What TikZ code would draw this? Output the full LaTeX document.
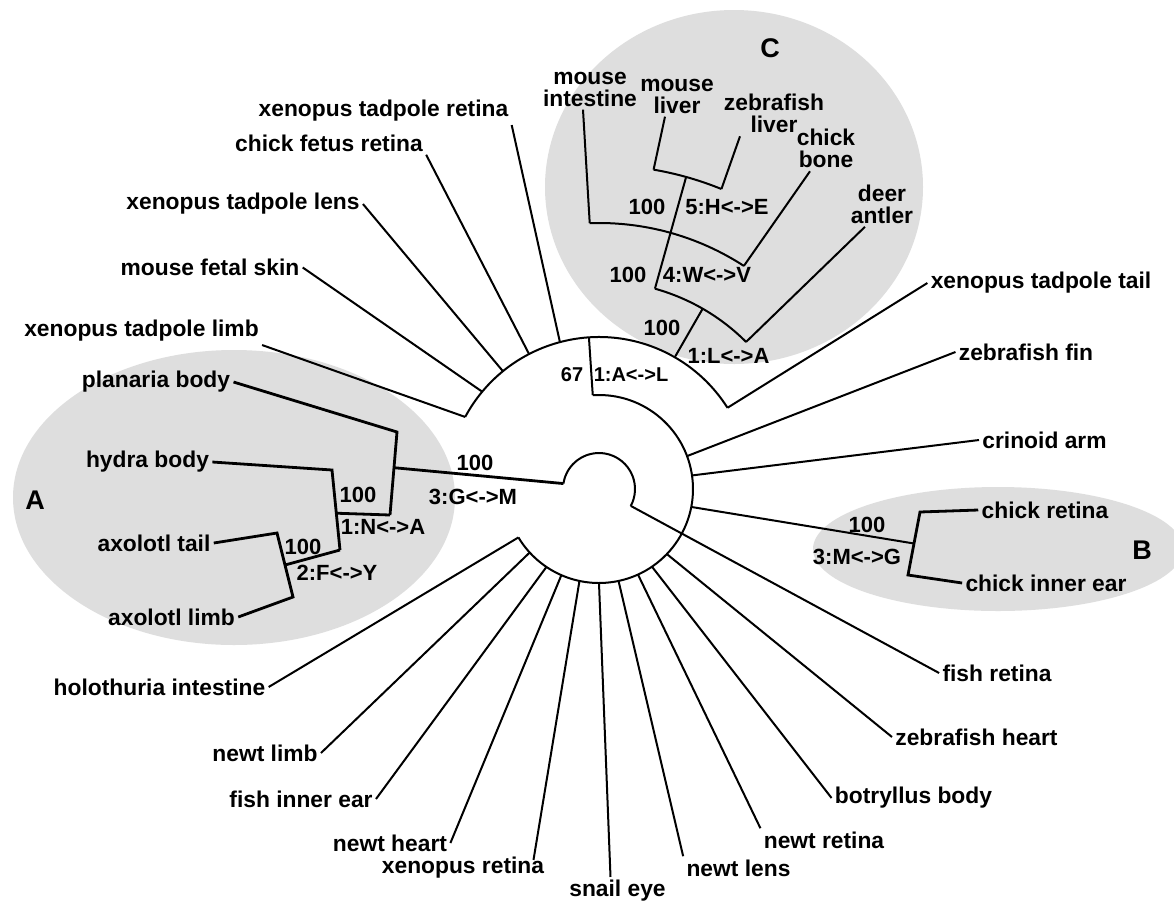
\documentclass[tikz,border=0pt]{standalone}
\usepackage{fontspec}
\setmainfont{Liberation Sans}
\usepackage{tikz}
\usetikzlibrary{calc}
\tikzstyle{leaf} = [inner sep=1.5pt, align=center, font=\fontsize{11.4}{11}\selectfont\bfseries]
\tikzstyle{supp} = [inner sep=1pt, font=\fontsize{11}{12}\selectfont\bfseries]
\tikzstyle{suppsm} = [inner sep=1pt, font=\fontsize{10}{12}\selectfont\bfseries]
\tikzset{
  branch/.style={line width=1pt, black},
  thickbranch/.style={line width=1.4pt, black},
  cladebg/.style={fill=black!13},
  cladelbl/.style={font=\fontsize{13.5}{15}\selectfont\bfseries},
}

\begin{document}
\begin{tikzpicture}[x=0.5pt, y=-0.5pt]
\useasboundingbox (0,0) rectangle (1174,901);
\fill[white] (0,0) rectangle (1174,901);

% shaded clades
\fill[cladebg] (234,497.5) ellipse [x radius=110.5pt, y radius=73.75pt];
\fill[cladebg] (998,549) ellipse [x radius=92.5pt, y radius=31pt];
\fill[cladebg] (734,187) ellipse [x radius=94.5pt, y radius=88.5pt];

\coordinate (ctr) at (599,489);

% leaves
\node[leaf] (xtlimb) at (141.5,331) {xenopus tadpole limb};
\node[leaf] (mfskin) at (210,267.5) {mouse fetal skin};
\node[leaf] (xtlens) at (243,204) {xenopus tadpole lens};
\node[leaf] (cfret) at (329,143) {chick fetus retina};
\node[leaf] (xtret) at (383.5,111) {xenopus tadpole retina};
\node[leaf] (xttail) at (1041,283) {xenopus tadpole tail};
\node[leaf] (mint) at (590,89) {mouse\\intestine};
\node[leaf] (mliv) at (677,96) {mouse\\liver};
\node[leaf] (zliv) at (774,113.5) {zebrafish\\liver};
\node[leaf] (cbone) at (826,148.5) {chick\\bone};
\node[leaf] (dant) at (882,204) {deer\\antler};
\node[leaf] (zfin) at (1026,352) {zebrafish fin};
\node[leaf] (carm) at (1044.5,440) {crinoid arm};
\node[leaf] (cret) at (1045,510) {chick retina};
\node[leaf] (cear) at (1046,583) {chick inner ear};
\node[leaf] (fret) at (997,673) {fish retina};
\node[leaf] (zheart) at (976.5,737) {zebrafish heart};
\node[leaf] (bbody) at (913.5,798) {botryllus body};
\node[leaf] (nret) at (824,840) {newt retina};
\node[leaf] (nlens) at (738.5,868) {newt lens};
\node[leaf] (seye) at (617.5,891) {snail eye};
\node[leaf] (xret) at (463,868) {xenopus retina};
\node[leaf] (nheart) at (390,843) {newt heart};
\node[leaf] (fear) at (301,799) {fish inner ear};
\node[leaf] (nlimb) at (265,753) {newt limb};
\node[leaf] (hint) at (159.5,687) {holothuria intestine};
\node[leaf] (pbody) at (156,382) {planaria body};
\node[leaf] (hbody) at (147.5,462) {hydra body};
\node[leaf] (atail) at (154,543) {axolotl tail};
\node[leaf] (alimb) at (171.5,617) {axolotl limb};

% rings round the root
\draw[branch] ($(ctr)+(171.3:18pt)$) coordinate (r0) arc[start angle=171.3, end angle=-28, radius=18pt];
\draw[branch] ($(ctr)+(93.8:47pt)$) coordinate (m0) arc[start angle=93.8, end angle=-149, radius=47pt];
\draw[branch] ($(ctr)+(151.7:76pt)$) arc[start angle=151.7, end angle=32.3, radius=76pt];
\draw[branch] (m0) -- ($(ctr)+(93.8:76pt)$);

% outer ring leaves
\draw[branch] ($(ctr)+(151.7:76pt)$) -- (xtlimb.south east);
\draw[branch] ($(ctr)+(140.2:76pt)$) -- (mfskin.east);
\draw[branch] ($(ctr)+(129.2:76pt)$) -- (xtlens.east);
\draw[branch] ($(ctr)+(117.4:76pt)$) -- (cfret.south east);
\draw[branch] ($(ctr)+(104.9:76pt)$) -- (xtret.south east);
\draw[branch] ($(ctr)+(32.3:76pt)$) -- (xttail.west);

% middle ring leaves
\draw[branch] ($(ctr)+(20.5:47pt)$) -- (zfin.west);
\draw[branch] ($(ctr)+(8.3:47pt)$) -- (carm.west);
\draw[branch] ($(ctr)+(-43.8:47pt)$) -- (zheart.west);
\draw[branch] ($(ctr)+(-55.7:47pt)$) -- (bbody.west);
\draw[branch] ($(ctr)+(-65.5:47pt)$) -- (nret.north west);
\draw[branch] ($(ctr)+(-78:47pt)$) -- (nlens.north west);
\draw[branch] ($(ctr)+(-90:47pt)$) -- ([xshift=-3.5pt]seye.north);
\draw[branch] ($(ctr)+(-102:47pt)$) -- ([xshift=-7pt,yshift=-3pt]xret.north east);
\draw[branch] ($(ctr)+(-113.6:47pt)$) -- (nheart.east);
\draw[branch] ($(ctr)+(-124:47pt)$) -- (fear.east);
\draw[branch] ($(ctr)+(-137.5:47pt)$) -- (nlimb.east);
\draw[branch] ($(ctr)+(-149:47pt)$) -- (hint.east);
\draw[branch] ($(ctr)+(-28:18pt)$) -- (fret.west);

% clade A
\coordinate (pt) at (397,432);
\coordinate (pb) at (390,515);
\coordinate (ht) at (332,470);
\coordinate (hb) at (340,550);
\coordinate (at) at (277,533);
\coordinate (ab) at (293,597);
\draw[thickbranch] (pbody.east) -- (pt) -- (pb);
\draw[thickbranch] (hbody.east) -- (ht) -- (hb);
\draw[thickbranch] (atail.east) -- (at) -- (ab) -- (alimb.east);
\draw[thickbranch] (pb) -- ($(ht)!0.54!(hb)$);
\draw[thickbranch] (hb) -- ($(at)!0.5!(ab)$);
\draw[thickbranch] ($(pt)!0.43!(pb)$) -- (r0);

% clade B
\coordinate (bt) at (920,512);
\coordinate (bb) at (908,575);
\draw[thickbranch] (cret.west) -- (bt) -- (bb) -- (cear.west);
\draw[branch] ($(ctr)+(-11:47pt)$) -- ($(bt)!0.5!(bb)$);

% clade C
\draw[branch] ($(ctr)+(60.1:76pt)$) -- ($(ctr)+(60.1:104pt)$);
\draw[branch] ($(ctr)+(74.4:104pt)$) arc[start angle=74.4, end angle=45, radius=104pt];
\draw[branch] ($(ctr)+(74.4:104pt)$) -- ($(ctr)+(74.4:162pt)$);
\draw[branch] ($(ctr)+(92:133pt)$) arc[start angle=92, end angle=57, radius=133pt];
\draw[branch] ($(ctr)+(80.3:162pt)$) arc[start angle=80.3, end angle=67.8, radius=162pt];
\draw[branch] ($(ctr)+(92:133pt)$) -- ([xshift=-3.5pt]mint.south);
\draw[branch] ($(ctr)+(57:133pt)$) -- ([xshift=-8pt]cbone.south);
\draw[branch] ($(ctr)+(80.3:162pt)$) -- ([xshift=-6pt]mliv.south);
\draw[branch] ($(ctr)+(67.8:162pt)$) -- ([xshift=-17pt]zliv.south);
\draw[branch] ($(ctr)+(45:104pt)$) -- ([xshift=-8.5pt]dant.south);

% support values and substitutions
\node[supp] (bsA1) at (475,463) {100};
\node[supp] (muA1) at (473,497) {3:G<->M};
\node[supp] (bsA2) at (358,495) {100};
\node[supp] (muA2) at (383,527) {1:N<->A};
\node[supp] (bsA3) at (303,547) {100};
\node[supp] (muA3) at (337,573) {2:F<->Y};
\node[suppsm] (bsR) at (572,375) {67};
\node[suppsm] (muR) at (631,375) {1:A<->L};
\node[supp] (bsC1) at (662,328) {100};
\node[supp] (muC1) at (728.5,356) {1:L<->A};
\node[supp] (bsC2) at (628,275) {100};
\node[supp] (muC2) at (707,275) {4:W<->V};
\node[supp] (bsC3) at (647,207) {100};
\node[supp] (muC3) at (727,207) {5:H<->E};
\node[supp] (bsB) at (867,525) {100};
\node[supp] (muB) at (857,557) {3:M<->G};

\node[cladelbl] (cladeA) at (35,500) {A};
\node[cladelbl] (cladeB) at (1142,550) {B};
\node[cladelbl] (cladeC) at (770,48) {C};
\end{tikzpicture}
\end{document}
